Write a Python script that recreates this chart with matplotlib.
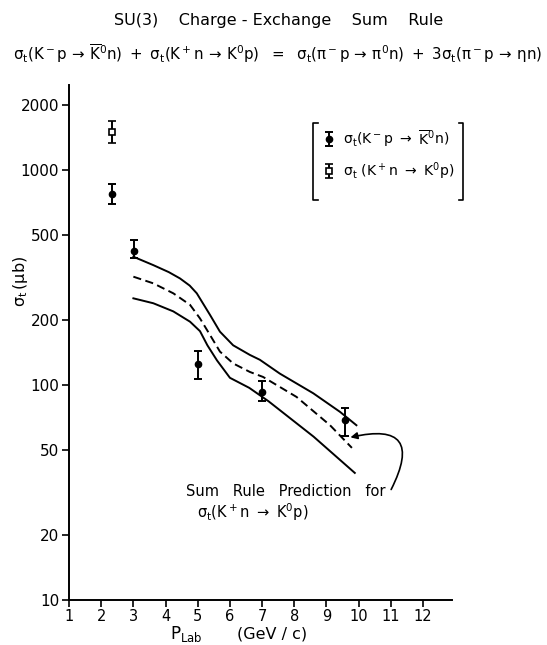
import numpy as np
import matplotlib.pyplot as plt

plt.rcParams['font.family'] = 'DejaVu Sans'
plt.rcParams['mathtext.fontset'] = 'dejavusans'
plt.rcParams['mathtext.default'] = 'regular'

# K- p -> K0bar n  (filled circles)
p_km = [2.34, 3.02, 5.0, 7.0, 9.57]
sig_km = [771, 421, 125, 93, 69]
err_km_lo = [76, 31, 18, 9, 11]
err_km_hi = [90, 52, 19, 11, 9]

# K+ n -> K0 p  (open square)
p_kp = [2.34]
sig_kp = [1510]
err_kp_lo = [180]
err_kp_hi = [185]

# sum rule prediction band (upper / central / lower)
p_up = [3.0, 3.62, 4.1, 4.45, 4.75, 4.97, 5.38, 5.69, 6.10, 6.62, 6.93, 7.55, 8.59, 9.42, 9.93]
sig_up = [395, 361, 335, 313, 290, 267, 212, 177, 153, 138, 131, 113, 91.5, 75, 65]
p_mid = [3.0, 3.62, 4.24, 4.76, 5.07, 5.38, 5.69, 6.10, 6.62, 7.03, 8.07, 9.11, 9.79]
sig_mid = [319, 297, 267, 236, 204, 171, 143, 126, 115, 109, 88, 65, 51]
p_lo = [3.0, 3.62, 4.24, 4.76, 5.07, 5.3, 5.6, 6.0, 6.6, 7.2, 8.6, 9.88]
sig_lo = [253, 240, 220, 197, 178, 153, 130, 108, 97, 84, 57.5, 39]

yticks = [10, 20, 50, 100, 200, 500, 1000, 2000]
xticks = list(range(1, 13))

W, H = 547, 645
fig = plt.figure(figsize=(W/100, H/100), dpi=100)
ax = fig.add_axes([69/W, 45/H, 383/W, 515/H])

lw = 1.4
ax.plot(p_up, sig_up, color='k', lw=lw)
ax.plot(p_lo, sig_lo, color='k', lw=lw)
ax.plot(p_mid, sig_mid, color='k', lw=lw, dashes=(4.2, 2.3))

e1 = ax.errorbar(p_km, sig_km, yerr=[err_km_lo, err_km_hi], fmt='o', color='k',
                 ms=4.5, elinewidth=1.4, capsize=3, capthick=1.4)
e2 = ax.errorbar(p_kp, sig_kp, yerr=[err_kp_lo, err_kp_hi], fmt='s', color='k',
                 mfc='white', mec='k', mew=1.2, ms=5, elinewidth=1.4, capsize=3, capthick=1.4)

ax.set_yscale('log')
ax.set_xlim(1, 12.9)
ax.set_ylim(10, 2485)
ax.set_yticks(yticks)
ax.set_yticklabels([str(t) for t in yticks])
ax.minorticks_off()
ax.set_xticks(xticks)
ax.tick_params(direction='out', length=5, width=1.2, labelsize=11, pad=2)
ax.tick_params(axis='x', labelsize=10.5, pad=1.5)
for s in ['top', 'right']:
    ax.spines[s].set_visible(False)
for s in ['left', 'bottom']:
    ax.spines[s].set_linewidth(1.4)

# legend in brackets
leg = ax.legend([e1, e2],
                [r'$\sigma_t(K^-p\ \rightarrow\ \overline{K}^0n)$',
                 r'$\sigma_t\ (K^+n\ \rightarrow\ K^0p)$'],
                loc='upper left', bbox_to_anchor=(0.635, 0.94), frameon=False,
                handlelength=0.6, handletextpad=0.7, labelspacing=0.8, fontsize=10.1)
bx0, bx1, by0, by1, serif = 0.637, 1.029, 0.777, 0.926, 0.012
ax.plot([bx0 + serif, bx0, bx0, bx0 + serif], [by1, by1, by0, by0], color='k', lw=1.2,
        transform=ax.transAxes, clip_on=False)
ax.plot([bx1 - serif, bx1, bx1, bx1 - serif], [by1, by1, by0, by0], color='k', lw=1.2,
        transform=ax.transAxes, clip_on=False)

# annotation
ax.text(4.63, 31.9, 'Sum   Rule   Prediction   for', fontsize=10.5,
        ha='left', va='center')
ax.text(4.98, 25.7, r'$\sigma_t(K^+n\ \rightarrow\ K^0p)$', fontsize=10.5,
        ha='left', va='center')
ax.annotate('', xy=(9.66, 56.7), xytext=(10.97, 31.8),
            arrowprops=dict(arrowstyle='-|>', color='k', lw=1.2,
                            connectionstyle='arc3,rad=1.1', mutation_scale=10))

fig.text(0.51, 1 - 20/H, 'SU(3)    Charge - Exchange    Sum    Rule', fontsize=11.5,
         ha='center', va='center')
fig.text(0.508, 1 - 54/H,
         r'$\sigma_t(K^-p\,\rightarrow\,\overline{K}^0n)\ +\ \sigma_t(K^+n\,\rightarrow\,K^0p)'
         r'\ \ =\ \ \sigma_t(\pi^-p\,\rightarrow\,\pi^0n)\ +\ 3\sigma_t(\pi^-p\,\rightarrow\,\eta n)$',
         fontsize=10.8, ha='center', va='center')
fig.text(21/W, 1 - 281/H, r'$\sigma_t\,(\mu b)$', rotation=90, fontsize=11.5,
         ha='center', va='center')
fig.text(170/W, 1 - 634/H, r'$P_{Lab}$', fontsize=12, ha='left', va='center')
fig.text(237/W, 1 - 634/H, '(GeV / c)', fontsize=11.5, ha='left', va='center')

fig.savefig('out.png', dpi=100)
